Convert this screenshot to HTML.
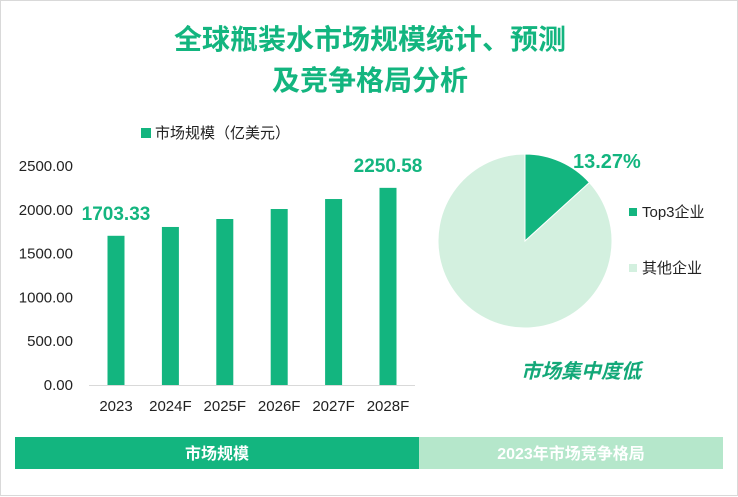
<!DOCTYPE html>
<html><head><meta charset="utf-8">
<style>
body{margin:0;width:738px;height:496px;background:#fff;overflow:hidden;font-family:"Liberation Sans","Noto Sans CJK SC",sans-serif;}
#wrap{position:relative;width:738px;height:496px;border:1px solid #d9d9d9;box-sizing:border-box;}
.title{position:absolute;left:0;width:738px;text-align:center;color:#13b57f;font-weight:bold;font-size:28px;line-height:41px;top:18px;}
svg{position:absolute;left:0;top:0;}
</style></head><body>
<div id="wrap">
<div class="title">全球瓶装水市场规模统计、预测<br>及竞争格局分析</div>
<svg id="s" width="738" height="496"></svg>
</div>
<script>
const categories=["2023","2024F","2025F","2026F","2027F","2028F"];
const values=[1703.33,1804,1895,2009,2123,2250.58];
const valueLabels=["1703.33","","","","","2250.58"];
const yTicks=[0,500,1000,1500,2000,2500];
const pieLabels=["Top3企业","其他企业"];
const pieValues=[13.27,86.73];
const NS="http://www.w3.org/2000/svg";
const s=document.getElementById('s');
function mk(t,a,txt){const e=document.createElementNS(NS,t);for(const k in a)e.setAttribute(k,a[k]);if(txt!==undefined)e.textContent=txt;s.appendChild(e);return e;}
const y0=384,yTop=165,yMax=2500;
const y=v=>y0-(v/yMax)*(y0-yTop);
const x=i=>115+i*54.4;
yTicks.forEach(t=>{const e=mk('text',{x:72,y:y(t)+5,'text-anchor':'end','font-size':15,fill:'#222'},t.toFixed(2));
});
const ax=mk('line',{x1:88,x2:414,y1:y0+0.5,y2:y0+0.5,stroke:'#d9d9d9'});

values.forEach((v,i)=>{
const r=mk('rect',{x:x(i)-8.5,y:y(v),width:17,height:y0-y(v),fill:'#13b57f'});

const t=mk('text',{x:x(i),y:410,'text-anchor':'middle','font-size':15,fill:'#222'},categories[i]);

if(valueLabels[i]){const l=mk('text',{x:x(i),y:y(v)-16,'text-anchor':'middle','font-size':19,'font-weight':'bold',fill:'#13b57f'},valueLabels[i]);
}
});
const lg=mk('rect',{x:140,y:127,width:10,height:10,fill:'#13b57f'});

const lt=mk('text',{x:154,y:137,'font-size':15,fill:'#222'},'市场规模（亿美元）');

const cx=524,cy=240,R=87,cols=['#13b57f','#d3f0df'];
const tot=pieValues.reduce((a,b)=>a+b,0);let a0=-Math.PI/2;
pieValues.forEach((v,i)=>{const a1=a0+v/tot*2*Math.PI;
const p=mk('path',{d:`M${cx},${cy}L${cx+R*Math.cos(a0)},${cy+R*Math.sin(a0)}A${R},${R} 0 ${a1-a0>Math.PI?1:0} 1 ${cx+R*Math.cos(a1)},${cy+R*Math.sin(a1)}Z`,fill:cols[i],stroke:'#fff','stroke-width':1});
a0=a1;
const sw=mk('rect',{x:628,y:i?263:207,width:8,height:8,fill:cols[i]});

const t=mk('text',{x:641,y:i?272:216,'font-size':15,fill:'#222'},pieLabels[i]);

});
const pl=mk('text',{x:572,y:167,'font-size':20,'font-weight':'bold',fill:'#13b57f'},pieValues[0].toFixed(2)+'%');

const nt=mk('text',{x:580,y:377,'text-anchor':'middle','font-size':20,'font-weight':'bold','font-style':'italic',fill:'#13a878'},'市场集中度低');

const b1=mk('rect',{x:14,y:436,width:404,height:32,fill:'#13b57f'});

const b2=mk('rect',{x:418,y:436,width:304,height:32,fill:'#b5e7cb'});

const f1=mk('text',{x:216,y:458,'text-anchor':'middle','font-size':16,'font-weight':'bold',fill:'#fff'},'市场规模');

const f2=mk('text',{x:570,y:458,'text-anchor':'middle','font-size':16,'font-weight':'bold',fill:'#fff'},'2023年市场竞争格局');

</script>
</body></html>
